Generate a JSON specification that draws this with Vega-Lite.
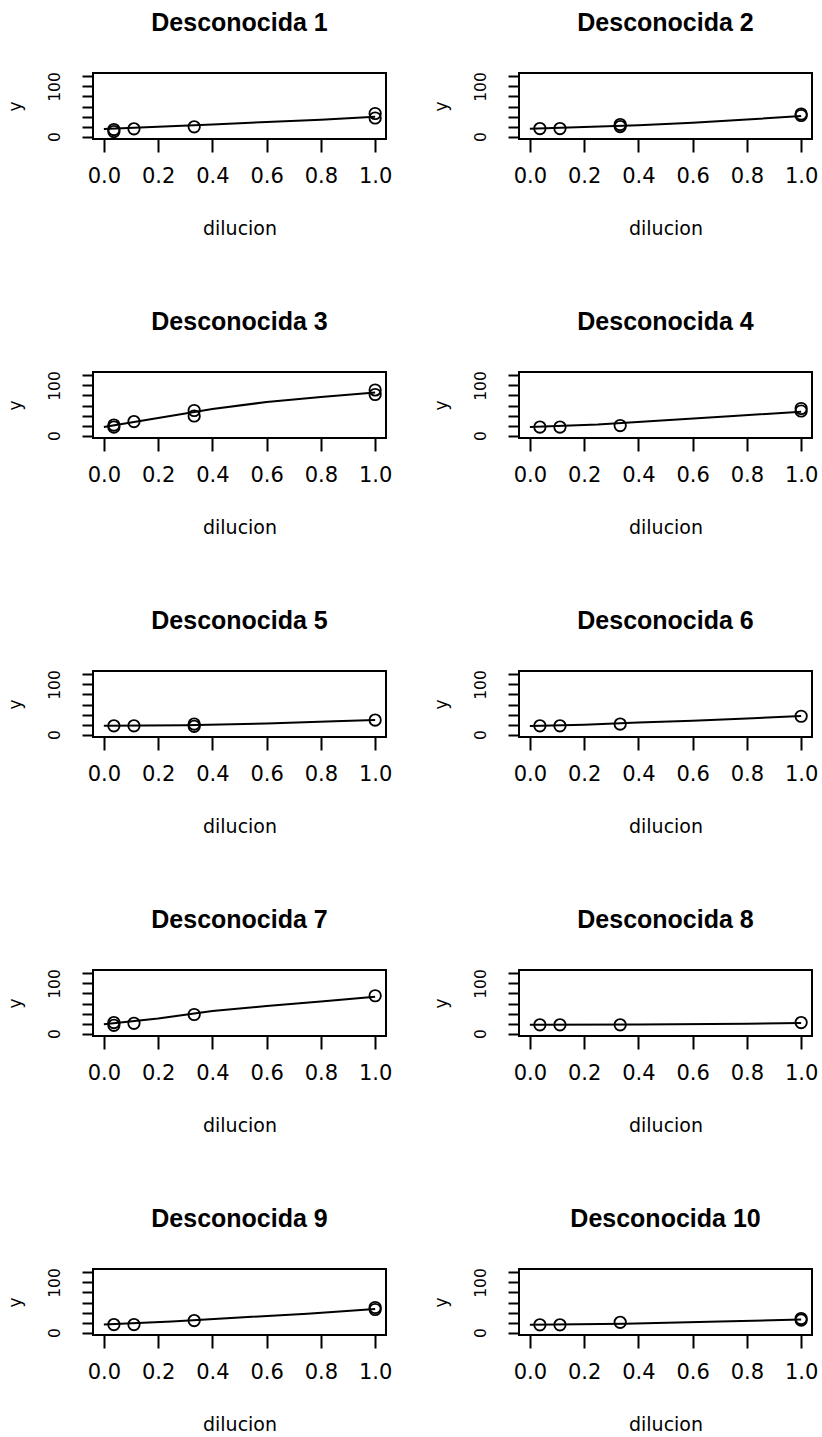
{
  "$schema": "https://vega.github.io/schema/vega-lite/v6.json",
  "background": "white",
  "padding": {"left": 5, "top": 9, "right": 0, "bottom": 5},
  "config": {
    "view": {"stroke": "black", "strokeWidth": 2},
    "axis": {"grid": false, "domain": false, "tickColor": "black", "tickWidth": 2, "labelColor": "black", "titleColor": "black", "labelFont": "DejaVu Sans", "titleFont": "DejaVu Sans", "titleFontWeight": "normal"}
  },
  "data": {"values": [
    {"m": "Desconocida 1", "t": "obs", "dil": 0.037, "y": 14},
    {"m": "Desconocida 1", "t": "obs", "dil": 0.037, "y": 10},
    {"m": "Desconocida 1", "t": "obs", "dil": 0.111, "y": 15.5},
    {"m": "Desconocida 1", "t": "obs", "dil": 0.333, "y": 19.5},
    {"m": "Desconocida 1", "t": "obs", "dil": 1, "y": 46},
    {"m": "Desconocida 1", "t": "obs", "dil": 1, "y": 37},
    {"m": "Desconocida 1", "t": "fit", "dil": 0, "y": 15},
    {"m": "Desconocida 1", "t": "fit", "dil": 0.2, "y": 19.5},
    {"m": "Desconocida 1", "t": "fit", "dil": 0.4, "y": 24},
    {"m": "Desconocida 1", "t": "fit", "dil": 0.6, "y": 29},
    {"m": "Desconocida 1", "t": "fit", "dil": 0.8, "y": 33.5},
    {"m": "Desconocida 1", "t": "fit", "dil": 1, "y": 39.5},

    {"m": "Desconocida 2", "t": "obs", "dil": 0.037, "y": 16},
    {"m": "Desconocida 2", "t": "obs", "dil": 0.111, "y": 16},
    {"m": "Desconocida 2", "t": "obs", "dil": 0.333, "y": 24},
    {"m": "Desconocida 2", "t": "obs", "dil": 0.333, "y": 20},
    {"m": "Desconocida 2", "t": "obs", "dil": 1, "y": 45},
    {"m": "Desconocida 2", "t": "obs", "dil": 1, "y": 42},
    {"m": "Desconocida 2", "t": "fit", "dil": 0, "y": 15.5},
    {"m": "Desconocida 2", "t": "fit", "dil": 0.2, "y": 19},
    {"m": "Desconocida 2", "t": "fit", "dil": 0.4, "y": 22.5},
    {"m": "Desconocida 2", "t": "fit", "dil": 0.6, "y": 27.5},
    {"m": "Desconocida 2", "t": "fit", "dil": 0.8, "y": 34},
    {"m": "Desconocida 2", "t": "fit", "dil": 1, "y": 41},

    {"m": "Desconocida 3", "t": "obs", "dil": 0.037, "y": 21},
    {"m": "Desconocida 3", "t": "obs", "dil": 0.037, "y": 17},
    {"m": "Desconocida 3", "t": "obs", "dil": 0.111, "y": 28},
    {"m": "Desconocida 3", "t": "obs", "dil": 0.333, "y": 50},
    {"m": "Desconocida 3", "t": "obs", "dil": 0.333, "y": 39},
    {"m": "Desconocida 3", "t": "obs", "dil": 1, "y": 91},
    {"m": "Desconocida 3", "t": "obs", "dil": 1, "y": 82},
    {"m": "Desconocida 3", "t": "fit", "dil": 0, "y": 17},
    {"m": "Desconocida 3", "t": "fit", "dil": 0.1, "y": 26},
    {"m": "Desconocida 3", "t": "fit", "dil": 0.2, "y": 35},
    {"m": "Desconocida 3", "t": "fit", "dil": 0.4, "y": 53},
    {"m": "Desconocida 3", "t": "fit", "dil": 0.6, "y": 67},
    {"m": "Desconocida 3", "t": "fit", "dil": 0.8, "y": 77},
    {"m": "Desconocida 3", "t": "fit", "dil": 1, "y": 86},

    {"m": "Desconocida 4", "t": "obs", "dil": 0.037, "y": 17},
    {"m": "Desconocida 4", "t": "obs", "dil": 0.111, "y": 17},
    {"m": "Desconocida 4", "t": "obs", "dil": 0.333, "y": 20},
    {"m": "Desconocida 4", "t": "obs", "dil": 1, "y": 54},
    {"m": "Desconocida 4", "t": "obs", "dil": 1, "y": 49},
    {"m": "Desconocida 4", "t": "fit", "dil": 0, "y": 17},
    {"m": "Desconocida 4", "t": "fit", "dil": 0.25, "y": 22},
    {"m": "Desconocida 4", "t": "fit", "dil": 0.5, "y": 30.5},
    {"m": "Desconocida 4", "t": "fit", "dil": 0.75, "y": 39},
    {"m": "Desconocida 4", "t": "fit", "dil": 1, "y": 47.5},

    {"m": "Desconocida 5", "t": "obs", "dil": 0.037, "y": 17.5},
    {"m": "Desconocida 5", "t": "obs", "dil": 0.111, "y": 17.5},
    {"m": "Desconocida 5", "t": "obs", "dil": 0.333, "y": 21},
    {"m": "Desconocida 5", "t": "obs", "dil": 0.333, "y": 16.5},
    {"m": "Desconocida 5", "t": "obs", "dil": 1, "y": 29},
    {"m": "Desconocida 5", "t": "fit", "dil": 0, "y": 17.5},
    {"m": "Desconocida 5", "t": "fit", "dil": 0.3, "y": 18.5},
    {"m": "Desconocida 5", "t": "fit", "dil": 0.6, "y": 22},
    {"m": "Desconocida 5", "t": "fit", "dil": 0.85, "y": 26.5},
    {"m": "Desconocida 5", "t": "fit", "dil": 1, "y": 29},

    {"m": "Desconocida 6", "t": "obs", "dil": 0.037, "y": 17.5},
    {"m": "Desconocida 6", "t": "obs", "dil": 0.111, "y": 17.5},
    {"m": "Desconocida 6", "t": "obs", "dil": 0.333, "y": 21},
    {"m": "Desconocida 6", "t": "obs", "dil": 1, "y": 36.5},
    {"m": "Desconocida 6", "t": "fit", "dil": 0, "y": 17},
    {"m": "Desconocida 6", "t": "fit", "dil": 0.2, "y": 19.5},
    {"m": "Desconocida 6", "t": "fit", "dil": 0.4, "y": 24},
    {"m": "Desconocida 6", "t": "fit", "dil": 0.6, "y": 27.5},
    {"m": "Desconocida 6", "t": "fit", "dil": 0.8, "y": 32},
    {"m": "Desconocida 6", "t": "fit", "dil": 1, "y": 37},

    {"m": "Desconocida 7", "t": "obs", "dil": 0.037, "y": 22},
    {"m": "Desconocida 7", "t": "obs", "dil": 0.037, "y": 16.5},
    {"m": "Desconocida 7", "t": "obs", "dil": 0.111, "y": 20.5},
    {"m": "Desconocida 7", "t": "obs", "dil": 0.333, "y": 38},
    {"m": "Desconocida 7", "t": "obs", "dil": 1, "y": 75.5},
    {"m": "Desconocida 7", "t": "fit", "dil": 0, "y": 18.5},
    {"m": "Desconocida 7", "t": "fit", "dil": 0.2, "y": 30},
    {"m": "Desconocida 7", "t": "fit", "dil": 0.4, "y": 45},
    {"m": "Desconocida 7", "t": "fit", "dil": 0.6, "y": 55},
    {"m": "Desconocida 7", "t": "fit", "dil": 0.8, "y": 64},
    {"m": "Desconocida 7", "t": "fit", "dil": 1, "y": 73.5},

    {"m": "Desconocida 8", "t": "obs", "dil": 0.037, "y": 17.5},
    {"m": "Desconocida 8", "t": "obs", "dil": 0.111, "y": 17.5},
    {"m": "Desconocida 8", "t": "obs", "dil": 0.333, "y": 17.5},
    {"m": "Desconocida 8", "t": "obs", "dil": 1, "y": 22},
    {"m": "Desconocida 8", "t": "fit", "dil": 0, "y": 17.5},
    {"m": "Desconocida 8", "t": "fit", "dil": 0.4, "y": 18},
    {"m": "Desconocida 8", "t": "fit", "dil": 0.8, "y": 19.5},
    {"m": "Desconocida 8", "t": "fit", "dil": 1, "y": 21},

    {"m": "Desconocida 9", "t": "obs", "dil": 0.037, "y": 16},
    {"m": "Desconocida 9", "t": "obs", "dil": 0.111, "y": 16},
    {"m": "Desconocida 9", "t": "obs", "dil": 0.333, "y": 24},
    {"m": "Desconocida 9", "t": "obs", "dil": 1, "y": 50},
    {"m": "Desconocida 9", "t": "obs", "dil": 1, "y": 46},
    {"m": "Desconocida 9", "t": "fit", "dil": 0, "y": 16},
    {"m": "Desconocida 9", "t": "fit", "dil": 0.25, "y": 22},
    {"m": "Desconocida 9", "t": "fit", "dil": 0.5, "y": 30},
    {"m": "Desconocida 9", "t": "fit", "dil": 0.75, "y": 37.5},
    {"m": "Desconocida 9", "t": "fit", "dil": 1, "y": 47},

    {"m": "Desconocida 10", "t": "obs", "dil": 0.037, "y": 15.5},
    {"m": "Desconocida 10", "t": "obs", "dil": 0.111, "y": 15.5},
    {"m": "Desconocida 10", "t": "obs", "dil": 0.333, "y": 20.5},
    {"m": "Desconocida 10", "t": "obs", "dil": 1, "y": 28},
    {"m": "Desconocida 10", "t": "obs", "dil": 1, "y": 25},
    {"m": "Desconocida 10", "t": "fit", "dil": 0, "y": 15.5},
    {"m": "Desconocida 10", "t": "fit", "dil": 0.35, "y": 17.5},
    {"m": "Desconocida 10", "t": "fit", "dil": 0.7, "y": 22},
    {"m": "Desconocida 10", "t": "fit", "dil": 1, "y": 26}
  ]},
  "facet": {
    "field": "m", "type": "nominal",
    "sort": ["Desconocida 1", "Desconocida 2", "Desconocida 3", "Desconocida 4", "Desconocida 5", "Desconocida 6", "Desconocida 7", "Desconocida 8", "Desconocida 9", "Desconocida 10"],
    "header": {"title": null, "labelFont": "Liberation Sans", "labelFontSize": 25, "labelFontWeight": "bold", "labelColor": "black", "labelPadding": 36}
  },
  "columns": 2,
  "bounds": "flush",
  "spacing": {"row": 233, "column": 133},
  "resolve": {"axis": {"x": "independent", "y": "independent"}},
  "spec": {
    "width": 293,
    "height": 66,
    "encoding": {
      "x": {"field": "dil", "type": "quantitative",
        "scale": {"domain": [-0.04, 1.04], "nice": false, "zero": false},
        "axis": {"values": [0, 0.2, 0.4, 0.6, 0.8, 1], "format": ".1f", "tickSize": 13, "labelPadding": 13, "labelFontSize": 21, "labelFlush": false, "labelOverlap": false, "title": "dilucion", "titleFontSize": 19, "titlePadding": 33}},
      "y": {"field": "y", "type": "quantitative",
        "scale": {"domain": [-4.9, 126.9], "nice": false, "zero": false},
        "axis": {"values": [0, 20, 40, 60, 80, 100, 120], "labelExpr": "datum.value == 0 || datum.value == 100 ? datum.label : ''", "labelAngle": -90, "labelAlign": "center", "labelBaseline": "bottom", "labelFontSize": 15.5, "labelOverlap": false, "labelFlush": false, "tickSize": 11, "labelPadding": 20, "title": "y", "titleFontSize": 17, "titlePadding": 23}}
    },
    "layer": [
      {"transform": [{"filter": "datum.t == 'fit'"}], "mark": {"type": "line", "color": "black", "strokeWidth": 2}, "encoding": {}},
      {"transform": [{"filter": "datum.t == 'obs'"}], "mark": {"type": "point", "shape": "circle", "filled": false, "color": "black", "size": 130, "strokeWidth": 1.8, "opacity": 1}, "encoding": {}}
    ]
  }
}
